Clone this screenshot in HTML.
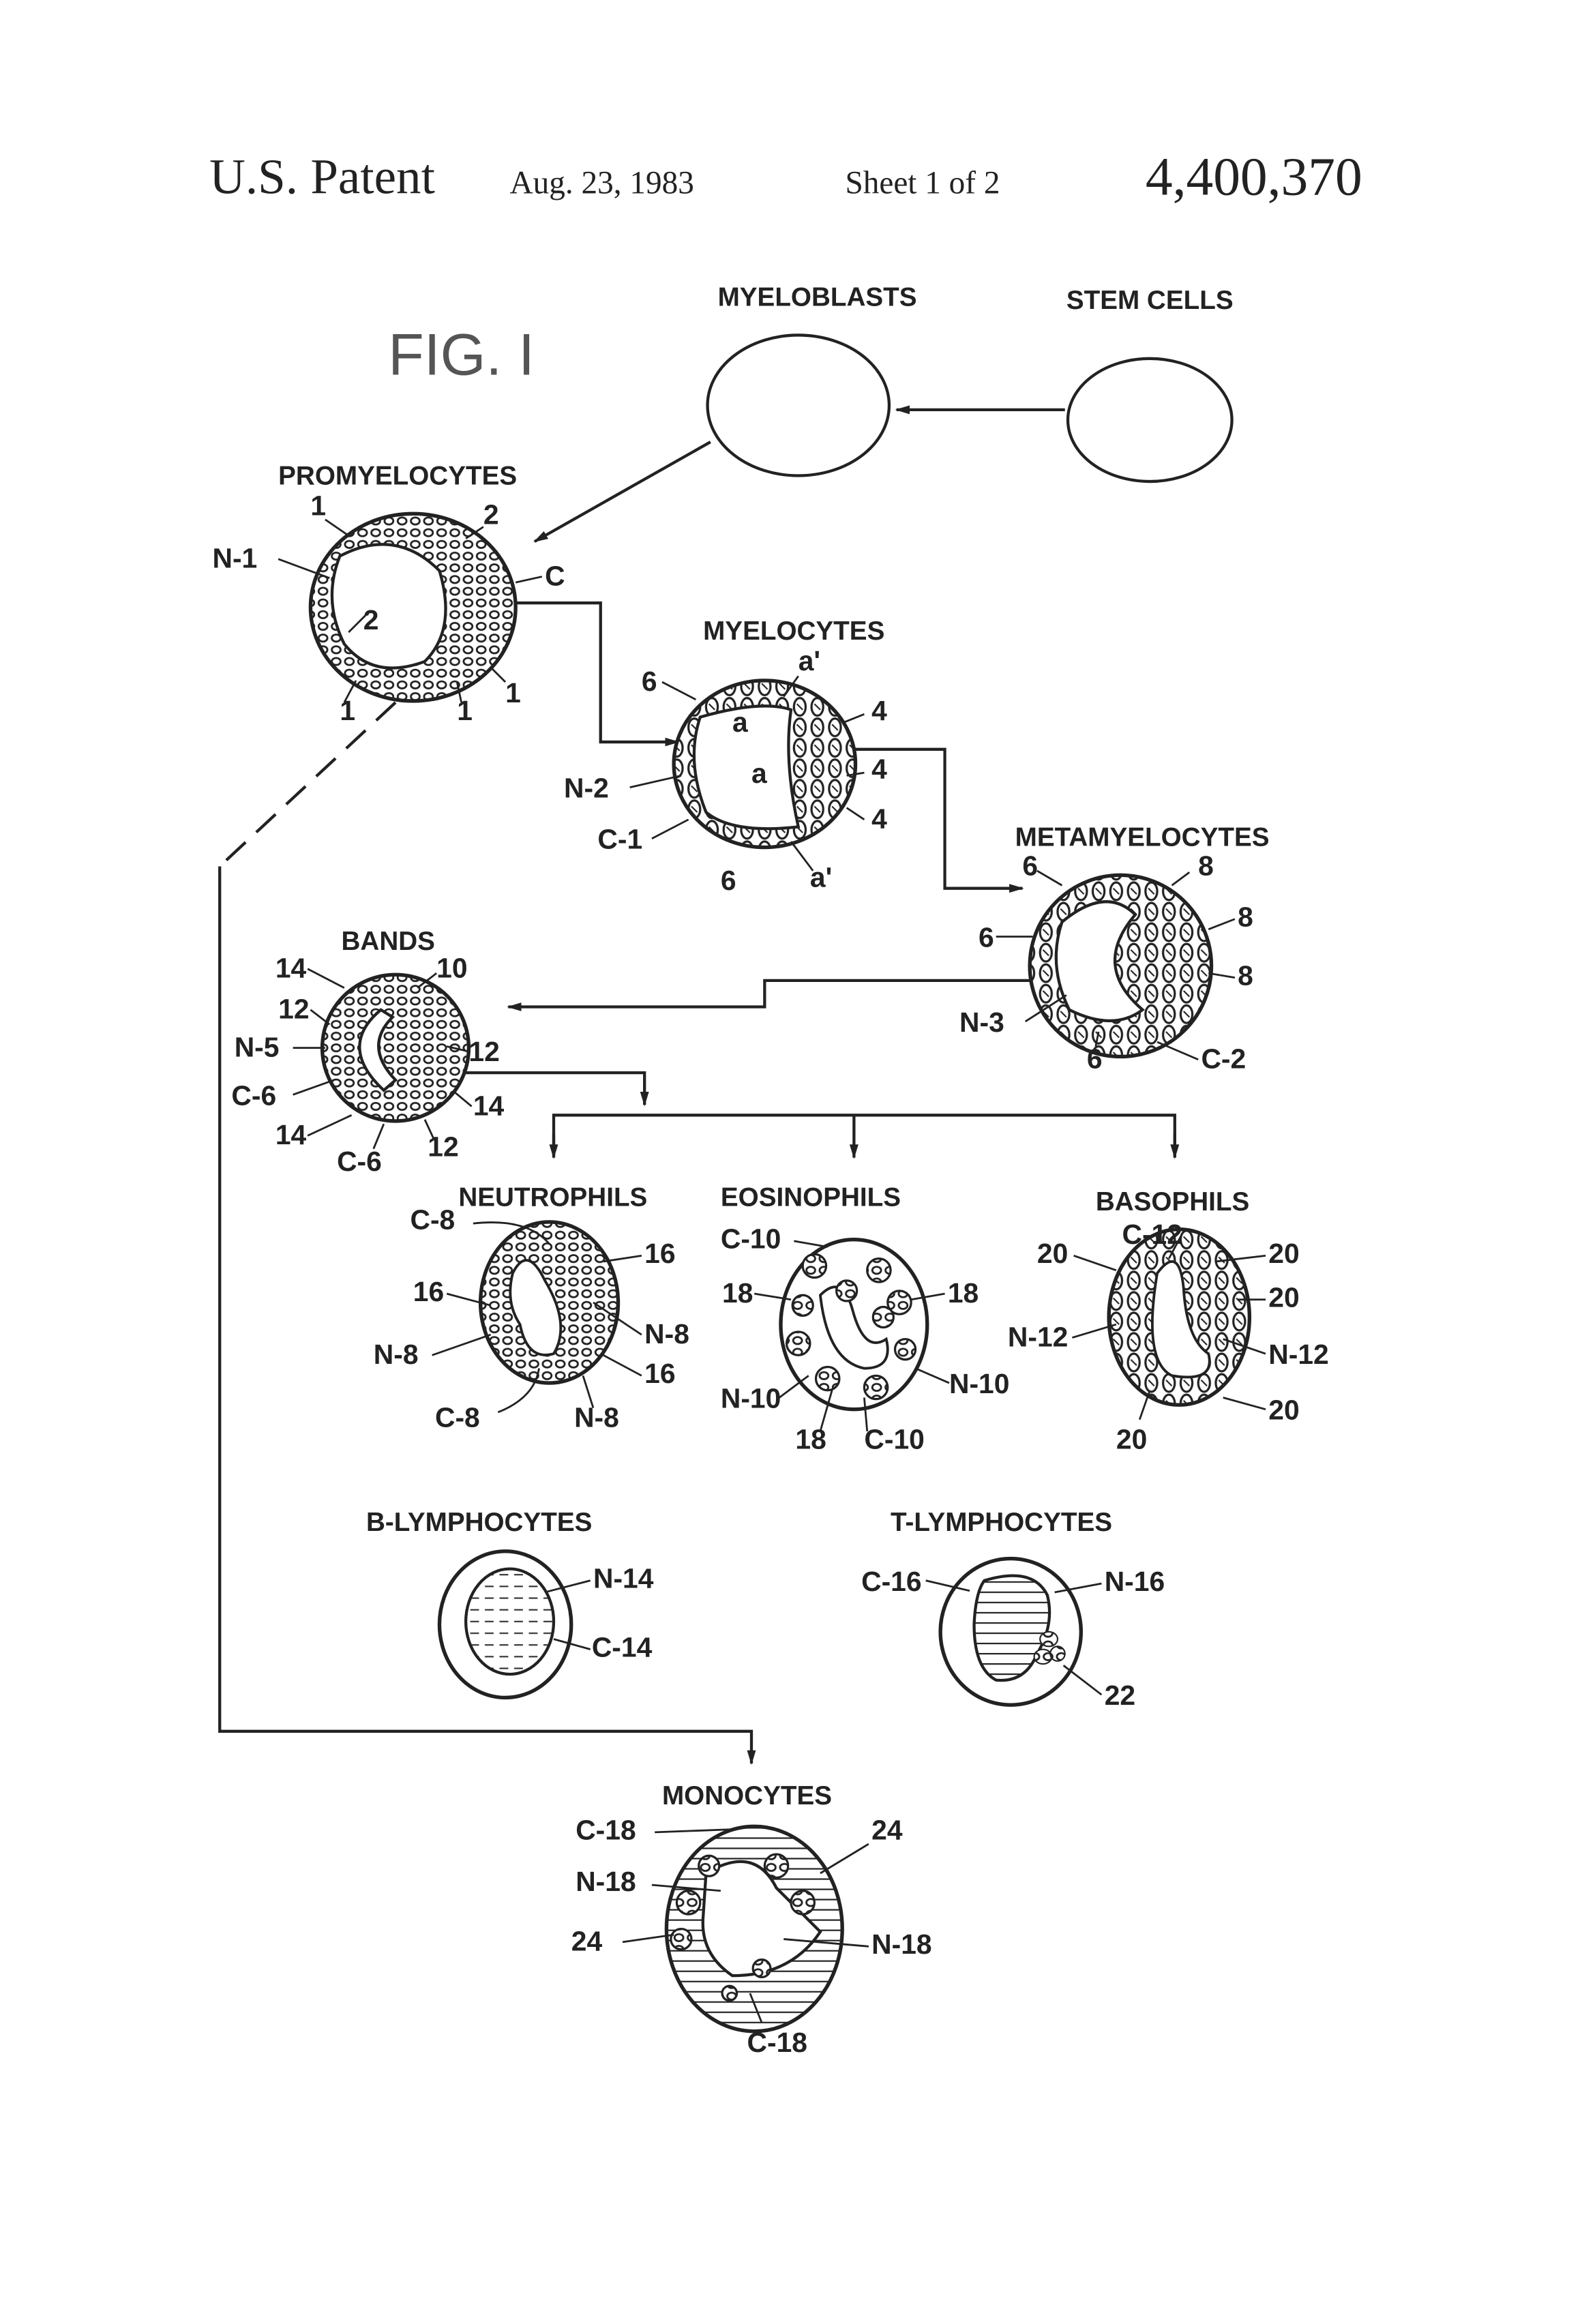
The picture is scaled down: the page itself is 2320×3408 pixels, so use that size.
<!DOCTYPE html>
<html><head><meta charset="utf-8"><style>
html,body{margin:0;padding:0;background:#fff}
svg{display:block}
.l{font-family:"Liberation Sans",sans-serif;font-weight:bold;font-size:18px;fill:#222}
.n{font-family:"Liberation Sans",sans-serif;font-weight:bold;font-size:19px;fill:#222}
.h{font-family:"Liberation Serif",serif;fill:#222}
</style></head><body>
<svg width="2320" height="3408" viewBox="0 0 1080 1588" preserveAspectRatio="none" xmlns="http://www.w3.org/2000/svg">
<defs>
<pattern id="g" width="9" height="8" patternUnits="userSpaceOnUse">
<rect width="9" height="8" fill="#fff"/><ellipse cx="4.5" cy="4" rx="3" ry="2.4" fill="none" stroke="#222" stroke-width="1.3"/></pattern>
<pattern id="gb" width="12" height="14" patternUnits="userSpaceOnUse">
<rect width="12" height="14" fill="#fff"/><ellipse cx="6" cy="7" rx="4" ry="6" fill="none" stroke="#222" stroke-width="1.5"/><line x1="4" y1="5" x2="8" y2="9" stroke="#222"/></pattern>
<pattern id="hz" width="10" height="7" patternUnits="userSpaceOnUse">
<rect width="10" height="7" fill="#fff"/><line x1="0" y1="3" x2="10" y2="3" stroke="#222" stroke-width="1"/></pattern>
<pattern id="dz" width="10" height="8" patternUnits="userSpaceOnUse">
<rect width="10" height="8" fill="#fff"/><line x1="1" y1="4" x2="7" y2="4" stroke="#333" stroke-width="1"/></pattern>
<marker id="a" markerWidth="10" markerHeight="8" refX="9" refY="4" orient="auto" markerUnits="userSpaceOnUse"><path d="M0,1 L10,4 L0,7 z" fill="#222"/></marker>
</defs>
<text class="h" x="143" y="132" font-size="34">U.S. Patent</text>
<text class="h" x="348" y="132" font-size="22">Aug. 23, 1983</text>
<text class="h" x="577" y="132" font-size="22">Sheet 1 of 2</text>
<text class="h" x="782" y="133" font-size="37">4,400,370</text>
<text x="265" y="256" font-family="Liberation Sans,sans-serif" font-size="40" fill="#555" font-weight="normal">FIG. I</text>

<text class="l" x="490" y="209">MYELOBLASTS</text>
<text class="l" x="728" y="211">STEM CELLS</text>
<g fill="none" stroke="#222" stroke-width="2">
<ellipse cx="545" cy="277" rx="62" ry="48"/>
<ellipse cx="785" cy="287" rx="56" ry="42"/>
<line x1="727" y1="280" x2="612" y2="280" marker-end="url(#a)"/>
<line x1="485" y1="302" x2="365" y2="370" marker-end="url(#a)"/>
<polyline points="350,412 410,412 410,507 463,507" marker-end="url(#a)"/>
<polyline points="575,512 645,512 645,607 698,607" marker-end="url(#a)"/>
<polyline points="705,670 522,670 522,688 347,688" marker-end="url(#a)"/>
<polyline points="318,733 440,733 440,755" marker-end="url(#a)"/>
<polyline points="378,790 378,762 802,762 802,790"/>
<line x1="378" y1="775" x2="378" y2="791" marker-end="url(#a)"/>
<line x1="583" y1="762" x2="583" y2="791" marker-end="url(#a)"/>
<line x1="802" y1="775" x2="802" y2="791" marker-end="url(#a)"/>
<line x1="270" y1="480" x2="150" y2="592" stroke-dasharray="18,10"/>
<polyline points="150,592 150,1183 513,1183 513,1205" marker-end="url(#a)"/>
</g>

<text class="l" x="190" y="331">PROMYELOCYTES</text>
<ellipse cx="282" cy="415" rx="70" ry="64" fill="url(#g)" stroke="#222" stroke-width="2.5"/>
<path d="M232,380 Q270,360 300,390 Q312,430 290,452 Q255,465 235,440 Q220,410 232,380z" fill="#fff" stroke="#222" stroke-width="2"/>
<text class="l" x="480" y="437">MYELOCYTES</text>
<ellipse cx="522" cy="522" rx="62" ry="57" fill="url(#gb)" stroke="#222" stroke-width="2.5"/>
<path d="M478,490 Q520,478 540,485 Q535,520 545,565 Q500,570 482,555 Q468,520 478,490z" fill="#fff" stroke="#222" stroke-width="2"/>
<text class="l" x="693" y="578">METAMYELOCYTES</text>
<ellipse cx="765" cy="660" rx="62" ry="62" fill="url(#gb)" stroke="#222" stroke-width="2.5"/>
<path d="M725,630 Q755,605 775,625 Q745,660 780,690 Q760,705 730,690 Q715,660 725,630z" fill="#fff" stroke="#222" stroke-width="2"/>
<text class="l" x="233" y="649">BANDS</text>
<ellipse cx="270" cy="716" rx="50" ry="50" fill="url(#g)" stroke="#222" stroke-width="2.5"/>
<path d="M260,690 Q230,715 262,745 L270,738 Q248,715 268,695z" fill="#fff" stroke="#222" stroke-width="2"/>
<text class="l" x="313" y="824">NEUTROPHILS</text>
<ellipse cx="375" cy="890" rx="47" ry="55" fill="url(#g)" stroke="#222" stroke-width="2.5"/>
<path d="M350,870 Q360,850 372,875 Q390,905 378,925 Q360,930 355,905 Q345,890 350,870z" fill="#fff" stroke="#222" stroke-width="1.8"/>
<text class="l" x="492" y="824">EOSINOPHILS</text>
<ellipse cx="583" cy="905" rx="50" ry="58" fill="#fff" stroke="#222" stroke-width="2.5"/>
<path d="M560,885 Q575,870 582,895 Q590,925 605,915 Q610,935 590,935 Q565,930 560,885z" fill="#fff" stroke="#222" stroke-width="1.8"/>
<g fill="url(#g)" stroke="#222" stroke-width="1.5">
<circle cx="556" cy="865" r="8"/><circle cx="600" cy="868" r="8"/><circle cx="578" cy="882" r="7"/><circle cx="614" cy="890" r="8"/><circle cx="548" cy="892" r="7"/><circle cx="603" cy="900" r="7"/><circle cx="545" cy="918" r="8"/><circle cx="565" cy="942" r="8"/><circle cx="598" cy="948" r="8"/><circle cx="618" cy="922" r="7"/></g>
<text class="l" x="748" y="827">BASOPHILS</text>
<ellipse cx="805" cy="900" rx="48" ry="60" fill="url(#gb)" stroke="#222" stroke-width="2.5"/>
<path d="M790,870 Q805,850 808,880 Q810,915 825,925 Q830,945 800,940 Q780,930 790,870z" fill="#fff" stroke="#222" stroke-width="1.8"/>
<text class="l" x="250" y="1046">B-LYMPHOCYTES</text>
<ellipse cx="345" cy="1110" rx="45" ry="50" fill="#fff" stroke="#222" stroke-width="2.5"/>
<ellipse cx="348" cy="1108" rx="30" ry="36" fill="url(#dz)" stroke="#222" stroke-width="2"/>
<text class="l" x="608" y="1046">T-LYMPHOCYTES</text>
<ellipse cx="690" cy="1115" rx="48" ry="50" fill="#fff" stroke="#222" stroke-width="2.5"/>
<path d="M672,1080 Q705,1070 715,1090 Q720,1110 708,1130 Q700,1150 680,1148 Q665,1140 665,1110 Q666,1088 672,1080z" fill="url(#hz)" stroke="#222" stroke-width="2"/>
<g fill="url(#g)" stroke="#222"><ellipse cx="716" cy="1120" rx="6" ry="5"/><ellipse cx="712" cy="1132" rx="6" ry="5"/><ellipse cx="722" cy="1130" rx="5" ry="5"/></g>
<text class="l" x="452" y="1233">MONOCYTES</text>
<ellipse cx="515" cy="1318" rx="60" ry="70" fill="url(#hz)" stroke="#222" stroke-width="2.5"/>
<path d="M482,1280 Q515,1260 530,1290 Q545,1305 560,1320 Q540,1350 500,1350 Q478,1335 480,1310z" fill="#fff" stroke="#222" stroke-width="2"/>
<g fill="url(#g)" stroke="#222" stroke-width="1.5"><circle cx="484" cy="1275" r="7"/><circle cx="470" cy="1300" r="8"/><circle cx="465" cy="1325" r="7"/><circle cx="530" cy="1275" r="8"/><circle cx="548" cy="1300" r="8"/><circle cx="520" cy="1345" r="6"/><circle cx="498" cy="1362" r="5"/></g>

<g class="n">
<text x="212" y="352">1</text><text x="330" y="358">2</text><text x="145" y="388">N-1</text><text x="372" y="400">C</text><text x="248" y="430">2</text>
<text x="232" y="492">1</text><text x="312" y="492">1</text><text x="345" y="480">1</text>
<text x="438" y="472">6</text><text x="545" y="458">a'</text><text x="500" y="500">a</text><text x="595" y="492">4</text><text x="513" y="535">a</text><text x="595" y="532">4</text><text x="385" y="545">N-2</text><text x="595" y="566">4</text><text x="408" y="580">C-1</text><text x="492" y="608">6</text><text x="553" y="606">a'</text>
<text x="698" y="598">6</text><text x="818" y="598">8</text><text x="668" y="647">6</text><text x="845" y="633">8</text><text x="845" y="673">8</text><text x="655" y="705">N-3</text><text x="742" y="730">6</text><text x="820" y="730">C-2</text>
<text x="188" y="668">14</text><text x="298" y="668">10</text><text x="190" y="696">12</text><text x="160" y="722">N-5</text><text x="320" y="725">12</text><text x="158" y="755">C-6</text><text x="323" y="762">14</text><text x="188" y="782">14</text><text x="230" y="800">C-6</text><text x="292" y="790">12</text>
<text x="280" y="840">C-8</text><text x="440" y="863">16</text><text x="282" y="889">16</text><text x="440" y="918">N-8</text><text x="255" y="932">N-8</text><text x="440" y="945">16</text><text x="297" y="975">C-8</text><text x="392" y="975">N-8</text>
<text x="492" y="853">C-10</text><text x="493" y="890">18</text><text x="647" y="890">18</text><text x="648" y="952">N-10</text><text x="492" y="962">N-10</text><text x="543" y="990">18</text><text x="590" y="990">C-10</text>
<text x="766" y="850">C-12</text><text x="708" y="863">20</text><text x="866" y="863">20</text><text x="866" y="893">20</text><text x="688" y="920">N-12</text><text x="866" y="932">N-12</text><text x="866" y="970">20</text><text x="762" y="990">20</text>
<text x="405" y="1085">N-14</text><text x="404" y="1132">C-14</text>
<text x="588" y="1087">C-16</text><text x="754" y="1087">N-16</text><text x="754" y="1165">22</text>
<text x="393" y="1257">C-18</text><text x="595" y="1257">24</text><text x="393" y="1292">N-18</text><text x="390" y="1333">24</text><text x="595" y="1335">N-18</text><text x="510" y="1402">C-18</text>
</g>
<g fill="none" stroke="#222" stroke-width="1.3">
<path d="M222,355 L238,366"/><path d="M330,360 L318,368"/><path d="M190,382 L225,395"/><path d="M370,394 L352,398"/><path d="M250,420 L238,432"/>
<path d="M235,480 L243,465"/><path d="M315,480 L312,466"/><path d="M345,466 L335,456"/>
<path d="M452,466 L475,478"/><path d="M545,462 L535,476"/><path d="M590,488 L575,494"/><path d="M590,528 L578,530"/><path d="M590,560 L578,552"/><path d="M430,538 L465,530"/><path d="M445,573 L470,560"/><path d="M555,595 L540,575"/>
<path d="M708,595 L725,605"/><path d="M812,596 L800,605"/><path d="M680,640 L705,640"/><path d="M843,628 L825,635"/><path d="M843,668 L825,665"/><path d="M700,698 L728,680"/><path d="M748,715 L750,705"/><path d="M818,724 L790,712"/>
<path d="M210,662 L235,675"/><path d="M298,665 L285,675"/><path d="M212,690 L225,700"/><path d="M200,716 L222,716"/><path d="M318,718 L305,715"/><path d="M200,748 L228,738"/><path d="M322,756 L310,746"/><path d="M210,776 L240,762"/><path d="M255,785 L262,768"/><path d="M296,778 L290,765"/>
<path d="M323,836 Q360,832 375,850"/><path d="M438,858 L412,862"/><path d="M305,884 L335,892"/><path d="M438,912 L405,890"/><path d="M295,926 L335,912"/><path d="M438,940 L410,925"/><path d="M340,965 Q365,955 368,935"/><path d="M405,962 L398,940"/>
<path d="M542,848 L565,852"/><path d="M515,884 L540,888"/><path d="M645,884 L622,888"/><path d="M648,945 L625,935"/><path d="M532,955 L552,940"/><path d="M560,978 L568,950"/><path d="M592,978 L590,955"/>
<path d="M806,845 L798,860"/><path d="M733,858 L762,868"/><path d="M864,858 L830,862"/><path d="M864,888 L845,888"/><path d="M732,914 L762,905"/><path d="M864,925 L835,915"/><path d="M864,963 L835,955"/><path d="M778,970 L785,950"/>
<path d="M403,1080 L372,1088"/><path d="M403,1127 L378,1120"/>
<path d="M632,1080 L662,1087"/><path d="M752,1082 L720,1088"/><path d="M752,1158 L726,1138"/>
<path d="M447,1252 L500,1250"/><path d="M593,1260 L560,1280"/><path d="M445,1288 L492,1292"/><path d="M425,1327 L460,1322"/><path d="M593,1330 L535,1325"/><path d="M520,1382 L512,1362"/>
</g>
</svg>
</body></html>
